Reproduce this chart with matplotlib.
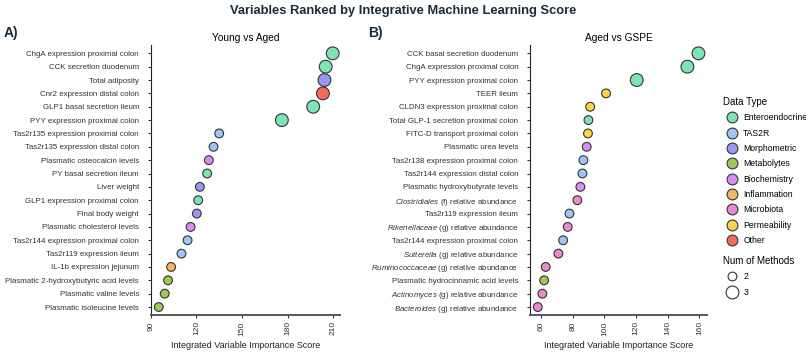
import matplotlib
matplotlib.use("Agg")
import matplotlib.pyplot as plt
from matplotlib.lines import Line2D

plt.rcParams['font.family'] = ['Liberation Sans', 'DejaVu Sans']
plt.rcParams['mathtext.fontset'] = 'custom'
plt.rcParams['mathtext.rm'] = 'Liberation Sans'
plt.rcParams['mathtext.it'] = 'Liberation Sans:italic'

# category colours
type_colors = {
    "Enteroendocrine": "#7fe3b4",
    "TAS2R": "#9ec5f5",
    "Morphometric": "#9b95f5",
    "Metabolytes": "#a0c75a",
    "Biochemistry": "#d98cf2",
    "Inflammation": "#f2b562",
    "Microbiota": "#e68bcb",
    "Permeability": "#fad54a",
    "Other": "#f56b5a",
}

# panel A - Young vs Aged
a_labels = ["ChgA expression proximal colon", "CCK secretion duodenum", "Total adiposity",
            "Cnr2 expression distal colon", "GLP1 basal secretion ileum", "PYY expression proximal colon",
            "Tas2r135 expression proximal colon", "Tas2r135 expression distal colon",
            "Plasmatic osteocalcin levels", "PY basal secretion ileum", "Liver weight",
            "GLP1 expression proximal colon", "Final body weight", "Plasmatic cholesterol levels",
            "Tas2r144 expression proximal colon", "Tas2r119 expression ileum", "IL-1b expression jejunum",
            "Plasmatic 2-hydroxybutyric acid levels", "Plasmatic valine levels", "Plasmatic isoleucine levels"]
a_scores = [209.6, 205.0, 204.2, 203.2, 196.8, 176.2, 135.0, 131.3, 128.2, 127.1,
            122.3, 121.2, 120.3, 116.2, 114.2, 110.2, 103.4, 101.4, 99.2, 95.3]
a_types = ["Enteroendocrine", "Enteroendocrine", "Morphometric", "Other", "Enteroendocrine",
           "Enteroendocrine", "TAS2R", "TAS2R", "Biochemistry", "Enteroendocrine", "Morphometric",
           "Enteroendocrine", "Morphometric", "Biochemistry", "TAS2R", "TAS2R", "Inflammation",
           "Metabolytes", "Metabolytes", "Metabolytes"]
a_methods = [3, 3, 3, 3, 3, 3, 2, 2, 2, 2, 2, 2, 2, 2, 2, 2, 2, 2, 2, 2]

# panel B - Aged vs GSPE
b_labels = ["CCK basal secretion duodenum", "ChgA expression proximal colon", "PYY expression proximal colon",
            "TEER ileum", "CLDN3 expression proximal colon", "Total GLP-1 secretion proximal colon",
            "FITC-D transport proximal colon", "Plasmatic urea levels", "Tas2r138 expression proximal colon",
            "Tas2r144 expression distal colon", "Plasmatic hydroxybutyrate levels",
            r"$\mathit{Clostridiales}$ (f) relative abundance", "Tas2r119 expression ileum",
            r"$\mathit{Rikenellaceae}$ (g) relative abundance", "Tas2r144 expression proximal colon",
            r"$\mathit{Sutterella}$ (g) relative abundance", r"$\mathit{Ruminococcaceae}$ (g) relative abundance",
            "Plasmatic hydrocinnamic acid levels", r"$\mathit{Actinomyces}$ (g) relative abundance",
            r"$\mathit{Bacteroides}$ (g) relative abundance"]
b_scores = [159.4, 152.4, 120.4, 101.0, 91.0, 89.9, 89.6, 88.8, 86.7, 86.1,
            84.8, 82.9, 77.9, 76.8, 73.9, 70.9, 62.9, 61.9, 60.8, 57.9]
b_types = ["Enteroendocrine", "Enteroendocrine", "Enteroendocrine", "Permeability", "Permeability",
           "Enteroendocrine", "Permeability", "Biochemistry", "TAS2R", "TAS2R", "Biochemistry",
           "Microbiota", "TAS2R", "Microbiota", "TAS2R", "Microbiota", "Microbiota", "Metabolytes",
           "Microbiota", "Microbiota"]
b_methods = [3, 3, 3, 2, 2, 2, 2, 2, 2, 2, 2, 2, 2, 2, 2, 2, 2, 2, 2, 2]

size_map = {2: 40, 3: 85}

fig = plt.figure(figsize=(8.06, 3.52), dpi=100)
ax_a = fig.add_axes([0.187, 0.105, 0.235, 0.767])
ax_b = fig.add_axes([0.6576, 0.105, 0.2194, 0.767])


def panel(ax, labels, scores, types, methods, title, xlim, xticks):
    ys = list(range(len(labels)))
    ax.scatter(scores, ys, s=[size_map[m] for m in methods],
               c=[type_colors[t] for t in types], edgecolors="#333333", linewidths=0.8, zorder=3)
    ax.set_yticks(ys)
    ax.set_yticklabels(labels, fontsize=5.7, color="#222222")
    ax.set_ylim(len(labels) - 0.4, -0.62)
    ax.set_xlim(*xlim)
    ax.set_xticks(xticks)
    ax.set_xticklabels([str(t) for t in xticks], rotation=90, fontsize=6, color="#333333")
    ax.set_xlabel("Integrated Variable Importance Score", fontsize=6.5, color="#222222", labelpad=4)
    ax.set_title(title, fontsize=7.3, pad=3)
    for s in ["top", "right"]:
        ax.spines[s].set_visible(False)
    ax.spines["left"].set_color("#222222")
    ax.spines["bottom"].set_color("#555566")
    ax.spines["bottom"].set_linewidth(1.4)
    ax.tick_params(axis="both", length=2.5, width=0.8, colors="#333333")
    ax.tick_params(axis="y", pad=6)
    ax.tick_params(axis="x", pad=2)


panel(ax_a, a_labels, a_scores, a_types, a_methods, "Young vs Aged", (90, 214.5), [90, 120, 150, 180, 210])
panel(ax_b, b_labels, b_scores, b_types, b_methods, "Aged vs GSPE", (53, 164.7), [60, 80, 100, 120, 140, 160])

fig.text(0.5, 0.97, "Variables Ranked by Integrative Machine Learning Score", ha="center", va="center",
         fontsize=9.3, fontweight="bold", color="#1c2a3a")
fig.text(0.004, 0.906, "A)", fontsize=10, fontweight="bold", color="#1c2a3a", va="center")
fig.text(0.457, 0.906, "B)", fontsize=10, fontweight="bold", color="#1c2a3a", va="center")

type_handles = [Line2D([], [], marker="o", linestyle="", markersize=7.8, markerfacecolor=c,
                       markeredgecolor="#333333", markeredgewidth=0.8, label=t)
                for t, c in type_colors.items()]
fig.legend(handles=type_handles, title="Data Type", loc="upper left",
           bbox_to_anchor=(0.89, 0.742), frameon=False, fontsize=6.2, title_fontsize=7,
           handletextpad=0.3, labelspacing=0.74, borderpad=0.2, alignment="left")

size_handles = [Line2D([], [], marker="o", linestyle="", markersize=size_map[m] ** 0.5,
                       markerfacecolor="white", markeredgecolor="#333333", markeredgewidth=0.8, label=str(m))
                for m in [2, 3]]
fig.legend(handles=size_handles, title="Num of Methods", loc="upper left",
           bbox_to_anchor=(0.89, 0.29), frameon=False, fontsize=6.2, title_fontsize=7,
           handletextpad=0.3, labelspacing=0.75, borderpad=0.2, alignment="left")

fig.savefig("out.png", dpi=100)
